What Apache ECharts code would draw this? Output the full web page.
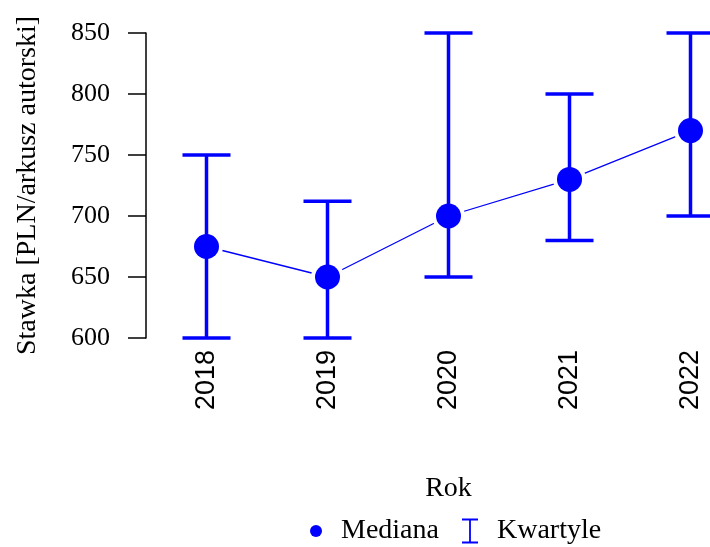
<!DOCTYPE html>
<html>
<head>
<meta charset="utf-8">
<script src="https://cdn.jsdelivr.net/npm/echarts@6/dist/echarts.min.js"></script>
<style>
  html, body { margin: 0; padding: 0; background: #fff; }
  #chart { width: 710px; height: 547px; }
</style>
</head>
<body>
<div id="chart"></div>
<script>
var years = ['2018', '2019', '2020', '2021', '2022'];
var mediana = [675, 650, 700, 730, 770];
var q1 = [600, 600, 650, 680, 700];
var q3 = [750, 712, 850, 800, 850];
var yTicks = [600, 650, 700, 750, 800, 850];

var blue = '#0000ff';
var serif = 'Liberation Serif';

var chart = echarts.init(document.getElementById('chart'));

// dane dla słupków błędów: [indeks, dolny kwartyl, górny kwartyl]
var errData = years.map(function (y, i) {
  return [i, q1[i], q3[i]];
});

function renderErr(params, api) {
  var x = api.value(0);
  var lo = api.coord([x, api.value(1)]);
  var hi = api.coord([x, api.value(2)]);
  var half = 24;
  var style = { stroke: blue, lineWidth: 3.5, fill: null };
  return {
    type: 'group',
    children: [
      { type: 'line', shape: { x1: lo[0], y1: lo[1], x2: hi[0], y2: hi[1] }, style: style },
      { type: 'line', shape: { x1: lo[0] - half, y1: lo[1], x2: lo[0] + half, y2: lo[1] }, style: style },
      { type: 'line', shape: { x1: hi[0] - half, y1: hi[1], x2: hi[0] + half, y2: hi[1] }, style: style }
    ]
  };
}

var legendText = { fontFamily: serif, fontSize: 28, color: '#000', padding: [0, 0, 0, 14] };

var option = {
  animation: false,
  backgroundColor: '#fff',
  grid: {
    left: 146,
    top: 33,
    width: 605,
    height: 305,
    outerBoundsMode: 'none'
  },
  xAxis: {
    type: 'category',
    data: years,
    boundaryGap: true,
    name: 'Rok',
    nameLocation: 'middle',
    nameGap: 137,
    nameTextStyle: { fontFamily: serif, fontSize: 28, color: '#000' },
    axisLine: { show: false },
    axisTick: { show: false },
    axisLabel: {
      rotate: 90,
      margin: 12,
      fontFamily: 'Liberation Sans',
      fontSize: 27,
      color: '#000'
    },
    splitLine: { show: false }
  },
  yAxis: {
    type: 'value',
    min: 600,
    max: 850,
    interval: 50,
    name: 'Stawka [PLN/arkusz autorski]',
    nameLocation: 'middle',
    nameGap: 104,
    nameTextStyle: { fontFamily: serif, fontSize: 28, color: '#000' },
    axisLine: { show: true, lineStyle: { color: '#000', width: 1.5 } },
    axisTick: { show: true, length: 18, lineStyle: { color: '#000', width: 1.5 } },
    axisLabel: {
      margin: 36,
      fontFamily: serif,
      fontSize: 26,
      color: '#000',
      formatter: function (v) { return yTicks.indexOf(v) >= 0 ? String(v) : ''; }
    },
    splitLine: { show: false }
  },
  legend: [
    {
      left: 310,
      top: 517,
      padding: 0,
      itemWidth: 12,
      itemHeight: 12,
      textStyle: legendText,
      data: [{ name: 'Mediana', icon: 'circle', itemStyle: { color: blue } }]
    },
    {
      left: 462,
      top: 517,
      padding: 0,
      itemWidth: 16,
      itemHeight: 25,
      textStyle: legendText,
      data: [{
        name: 'Kwartyle',
        icon: 'path://M0,0H16V2H8.9V23H16V25H0V23H7.1V2H0Z',
        itemStyle: { color: blue }
      }]
    }
  ],
  series: [
    {
      // linia łącząca mediany z przerwą przy punktach
      name: 'linia',
      type: 'line',
      data: mediana,
      z: 1,
      symbol: 'circle',
      symbolSize: 33,
      itemStyle: { color: '#fff', opacity: 1 },
      lineStyle: { color: blue, width: 1.3 },
      silent: true
    },
    {
      name: 'Kwartyle',
      type: 'custom',
      data: errData,
      renderItem: renderErr,
      itemStyle: { color: blue },
      z: 2
    },
    {
      name: 'Mediana',
      type: 'scatter',
      data: mediana,
      symbol: 'circle',
      symbolSize: 25,
      itemStyle: { color: blue, opacity: 1 },
      z: 3
    }
  ]
};

chart.setOption(option);
</script>
</body>
</html>
